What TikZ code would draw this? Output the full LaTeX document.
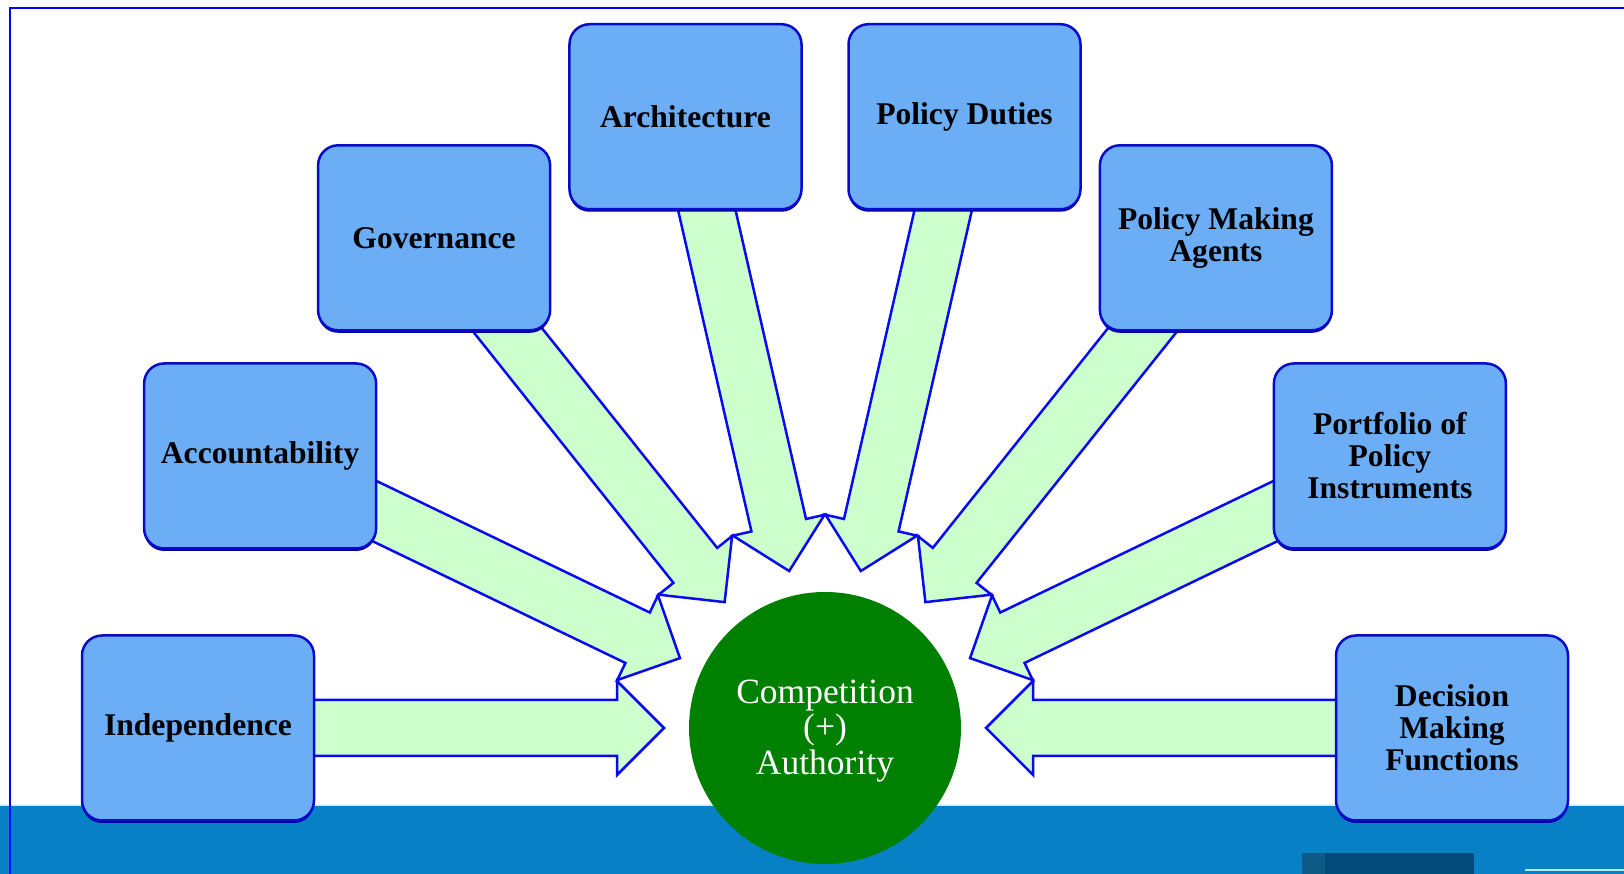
\documentclass[tikz,border=0pt]{standalone}
\usepackage{fontspec}
\setmainfont{Liberation Serif}
\usetikzlibrary{calc,shadows}
\definecolor{boxfill}{HTML}{6CAEF5}
\definecolor{boxline}{HTML}{0A0ACC}
\definecolor{boxshadow}{HTML}{00009A}
\definecolor{arrfill}{HTML}{CCFFCC}
\definecolor{arrline}{HTML}{0A0AF0}
\definecolor{hubfill}{HTML}{008000}
\definecolor{bandc}{HTML}{0880C6}
\definecolor{bandtop}{HTML}{B8DDF0}
\definecolor{framec}{HTML}{0000FF}
\definecolor{darkblock}{HTML}{004B78}
\definecolor{darkblockl}{HTML}{0C5A86}
\definecolor{lightline}{HTML}{B0E8FF}
\pgfdeclarelayer{bandlayer}
\pgfdeclarelayer{arrowlayer}
\pgfsetlayers{bandlayer,arrowlayer,main}
\tikzset{
 topic/.style={draw=boxline, line width=2.5pt, fill=boxfill, rounded corners=20pt,
   minimum width=232pt, minimum height=185pt, align=center, text=black,
   font=\bfseries\fontsize{31.6}{32}\selectfont,
   drop shadow={shadow xshift=0pt, shadow yshift=-2.5pt, fill=boxshadow, opacity=1}},
 hub/.style={circle, fill=hubfill, minimum size=272pt, inner sep=0pt},
 hubtext/.style={align=center, text=white, inner sep=0pt, font=\fontsize{35.5}{35.5}\selectfont},
 blockarrow/.style={draw=arrline, line width=2.5pt, fill=arrfill, line join=miter},
}
\begin{document}
\begin{tikzpicture}[x=1pt,y=1pt]
\useasboundingbox (0,0) rectangle (1624,874);
\begin{pgfonlayer}{bandlayer}
\fill[bandc] (0,0) rectangle (1624,68);
\shade[top color=white, bottom color=bandtop] (0,68) rectangle (1624,71);
\fill[darkblock] (1302,0) rectangle (1474,21);
\fill[darkblockl] (1302,0) rectangle (1325,21);
\fill[lightline] (1525,3) rectangle (1624,5);
\draw[framec, line width=2.5pt] (10,-5) -- (10,866) -- (1630,866);
\end{pgfonlayer}
\node[hub] (c) at (825,146) {};
\node[hubtext] (ct) at ([yshift=-3pt]c.center) {Competition\\(+)\\Authority};
\foreach \k/\txt in {0/Independence, 1/Accountability, 2/Governance, 3/Architecture, 4/Policy Duties, 5/{Policy Making\\Agents}, 6/{Portfolio of\\Policy\\Instruments}, 7/{Decision\\Making\\Functions}} {
  \node[topic] (b\k) at ($(c.center)+(180-\k*180/7:627)$) {\txt};
}
\begin{pgfonlayer}{arrowlayer}
\foreach \k in {0,...,7} {
  \path ($(c.center)!208pt!(b\k.center)$) coordinate (h\k)
        ($(c.center)!161pt!(b\k.center)$) coordinate (t\k);
  \draw[blockarrow] ($(b\k.center)!28pt!90:(c.center)$)
    -- ($(h\k)!28pt!-90:(b\k.center)$)
    -- ($(h\k)!47pt!-90:(b\k.center)$)
    -- (t\k)
    -- ($(h\k)!47pt!90:(b\k.center)$)
    -- ($(h\k)!28pt!90:(b\k.center)$)
    -- ($(b\k.center)!28pt!-90:(c.center)$) -- cycle;
}
\end{pgfonlayer}
\end{tikzpicture}
\end{document}
